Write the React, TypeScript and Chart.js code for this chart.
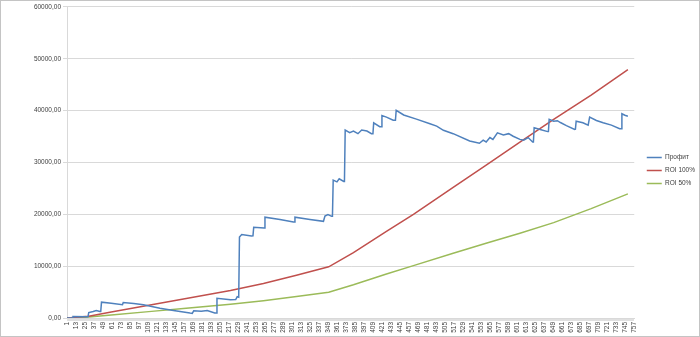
import React, { useEffect, useRef } from "react";
import { Chart, registerables } from "chart.js";

Chart.register(...registerables);

// X axis tick labels (category numbers)
const xTickLabels = [
  1, 13, 25, 37, 49, 61, 73, 85, 97, 109, 121, 133, 145, 157, 169, 181, 193, 205, 217, 229,
  241, 253, 265, 277, 289, 301, 313, 325, 337, 349, 361, 373, 385, 397, 409, 421, 433, 445,
  457, 469, 481, 493, 505, 517, 529, 541, 553, 565, 577, 589, 601, 613, 625, 637, 649, 661,
  673, 685, 697, 709, 721, 733, 745, 757,
];
const xMin = 1;
const xMax = 757.5;

// Y axis ticks
const yTicks = [0, 10000, 20000, 30000, 40000, 50000, 60000];

// "Профит" series: day index and value
const profitIdx = [
  1, 8, 9, 29, 30, 36, 40, 45, 46, 47, 60, 75, 76, 90, 103, 125, 143, 165, 168, 170, 180, 188,
  198, 200, 201, 219, 226, 228, 230, 231, 234, 247, 249, 250, 264, 265, 285, 303, 304, 305,
  325, 343, 345, 349, 354, 355, 356, 361, 364, 370, 371, 372, 378, 383, 389, 394, 401, 407,
  409, 410, 418, 420, 421, 427, 436, 439, 440, 450, 467, 485, 494, 503, 516, 538, 551, 556,
  560, 565, 569, 575, 583, 590, 596, 605, 610, 616, 622, 623, 624, 632, 642, 643, 644, 650,
  655, 659, 667, 678, 679, 680, 689, 696, 697, 698, 707, 716, 727, 738, 740, 741, 745, 749,
];
const profitVal = [
  0, 0, 300, 250, 1050, 1250, 1450, 1250, 1250, 3050, 2850, 2550, 2970, 2800, 2550, 1900, 1450,
  950, 900, 1380, 1300, 1450, 950, 950, 3800, 3500, 3550, 4100, 4000, 15600, 16100, 15800,
  15850, 17500, 17350, 19450, 19000, 18500, 18500, 19450, 19000, 18650, 19650, 19950, 19600,
  19600, 26600, 26250, 26850, 26350, 26350, 36250, 35750, 36050, 35550, 36250, 36050, 35550,
  35550, 37650, 36900, 36900, 39050, 38750, 38150, 38150, 40050, 39150, 38350, 37450, 37000,
  36200, 35550, 34150, 33700, 34300, 33950, 34800, 34450, 35700, 35300, 35550, 35050, 34450,
  34300, 34800, 33950, 33950, 36700, 36350, 35950, 35950, 38300, 37950, 38050, 37700, 37100,
  36350, 36400, 37950, 37650, 37200, 37200, 38750, 38100, 37650, 37200, 36500, 36500, 39400,
  39100, 38900,
];

// ROI series: day index and values
const roiIdx = [1, 30, 60, 110, 160, 219, 263, 307, 350, 383, 427, 463, 516, 561, 605, 650, 700, 749];
const roi100Val = [
  0, 350, 1150, 2450, 3750, 5300, 6650, 8250, 9870, 12600, 16700, 20000, 25200, 29600, 33900,
  38300, 43000, 47900,
];
const roi50Val = [
  0, 170, 570, 1230, 1870, 2650, 3330, 4130, 4950, 6400, 8500, 10100, 12500, 14450, 16350,
  18400, 21100, 23930,
];

const seriesNames = ["Профит", "ROI 100%", "ROI 50%"];
const seriesColors = ["#4F81BD", "#C0504D", "#9BBB59"];

const FONT = "'Liberation Sans', Arial, sans-serif";
const TEXT = "#404040";

const toPoints = (xs: number[], ys: number[]) => xs.map((x, i) => ({ x, y: ys[i] }));

export default function App() {
  const ref = useRef<HTMLCanvasElement | null>(null);

  useEffect(() => {
    document.body.style.margin = "0";
    const canvas = ref.current;
    if (!canvas) return;

    const legendShift = {
      id: "legendShift",
      afterLayout(chart: any) {
        const l = chart.legend;
        if (l) {
          l.left += 6;
          l.right += 6;
        }
      },
    };

    const ds = (i: number, data: { x: number; y: number }[]) => ({
      label: seriesNames[i],
      data,
      borderColor: seriesColors[i],
      backgroundColor: seriesColors[i],
      borderWidth: 1.5,
      pointRadius: 0,
      pointHoverRadius: 0,
      tension: 0,
      fill: false,
    });

    const chart = new Chart(canvas, {
      type: "line",
      data: {
        datasets: [
          ds(0, toPoints(profitIdx, profitVal)),
          ds(1, toPoints(roiIdx, roi100Val)),
          ds(2, toPoints(roiIdx, roi50Val)),
        ],
      },
      options: {
        animation: false,
        responsive: false,
        events: [],
        layout: { padding: { top: 4, left: 0, right: 0, bottom: 0 } },
        plugins: {
          tooltip: { enabled: false },
          legend: {
            display: true,
            position: "right",
            align: "center",
            labels: {
              usePointStyle: true,
              pointStyle: "line",
              pointStyleWidth: 15,
              padding: 6.5,
              color: TEXT,
              font: { family: FONT, size: 6.5 },
            },
          },
        },
        scales: {
          x: {
            type: "linear",
            min: xMin,
            max: xMax,
            afterBuildTicks: (scale: any) => {
              const t: { value: number }[] = [];
              for (let v = xMin; v <= xTickLabels[xTickLabels.length - 1]; v++) t.push({ value: v });
              scale.ticks = t;
            },
            afterFit: (scale: any) => {
              scale.height = 18;
            },
            ticks: {
              autoSkip: false,
              minRotation: 90,
              maxRotation: 90,
              padding: 1,
              color: TEXT,
              font: { family: FONT, size: 6.5 },
              callback: (v: any) => (xTickLabels.includes(Number(v)) ? String(v) : ""),
            },
            grid: {
              display: true,
              drawOnChartArea: false,
              drawTicks: true,
              tickLength: 3,
              color: "#e0e0e0",
              lineWidth: 1,
            },
            border: { display: true, color: "#d9d9d9" },
          },
          y: {
            type: "linear",
            min: yTicks[0],
            max: yTicks[yTicks.length - 1],
            afterBuildTicks: (scale: any) => {
              scale.ticks = yTicks.map((v) => ({ value: v }));
            },
            afterFit: (scale: any) => {
              scale.width = 66;
            },
            ticks: {
              padding: 2,
              color: TEXT,
              font: { family: FONT, size: 6.5 },
              callback: (v: any) => Number(v).toFixed(2).replace(".", ","),
            },
            grid: {
              color: "#d9d9d9",
              lineWidth: 1,
              drawTicks: true,
              tickLength: 4,
            },
            border: { display: true, color: "#d9d9d9" },
          },
        },
      },
      plugins: [legendShift],
    } as any);

    return () => chart.destroy();
  }, []);

  return (
    <div
      style={{
        width: 700,
        height: 337,
        border: "1px solid #c4c4c4",
        boxSizing: "border-box",
        background: "#ffffff",
        position: "relative",
      }}
    >
      <canvas ref={ref} width={698} height={335} style={{ display: "block", width: 698, height: 335 }} />
    </div>
  );
}
